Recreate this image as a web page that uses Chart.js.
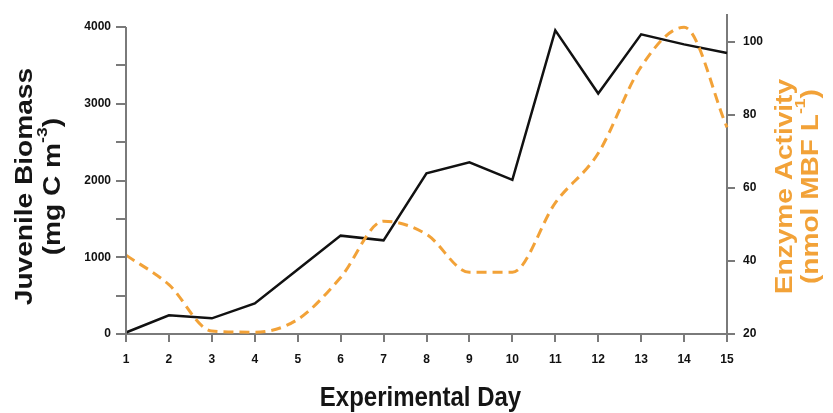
<!DOCTYPE html>
<html>
<head>
<meta charset="utf-8">
<script src="https://cdn.jsdelivr.net/npm/chart.js@4.4.1/dist/chart.umd.min.js"></script>
<style>
    html, body { margin: 0; padding: 0; background: #fff; }
    #wrap { width: 833px; height: 413px; }
</style>
</head>
<body>
<div id="wrap"><canvas id="chart"></canvas></div>
<script>
// ----- DATA -----
const days = ['1', '2', '3', '4', '5', '6', '7', '8', '9', '10', '11', '12', '13', '14', '15'];
const biomass = [20, 243, 204, 399, 840, 1282, 1221, 2095, 2238, 2009, 3957, 3134, 3905, 3775, 3662];
const enzyme = [41.6, 33.5, 20.8, 20.5, 24, 35.5, 50.9, 47.3, 36.9, 36.9, 55.9, 69.5, 93.2, 104, 76.6];
const biomassTicks = [0, 500, 1000, 1500, 2000, 2500, 3000, 3500, 4000];
const enzymeTicks = [20, 40, 60, 80, 100];

const ORANGE = '#F2A238';
const AXIS = '#7a7a7a';
const FONT = "'Liberation Sans', Arial, sans-serif";

// draws a rotated / stretched title made of normal and superscript parts
function drawTitleLine(ctx, parts, x, y, size, rot, stretch, color) {
    ctx.save();
    ctx.translate(x, y);
    ctx.scale(1, stretch);
    if (rot) ctx.rotate(rot);
    ctx.fillStyle = color;
    ctx.textBaseline = 'middle';
    ctx.textAlign = 'left';
    const widths = parts.map(p => {
        ctx.font = `bold ${p.sup ? Math.round(size * 0.62) : size}px ${FONT}`;
        return ctx.measureText(p.t).width;
    });
    let cx = -widths.reduce((a, b) => a + b, 0) / 2;
    parts.forEach((p, i) => {
        ctx.font = `bold ${p.sup ? Math.round(size * 0.62) : size}px ${FONT}`;
        ctx.fillText(p.t, cx, p.sup ? -size * 0.42 : 0);
        cx += widths[i];
    });
    ctx.restore();
}

const titlesPlugin = {
    id: 'axisTitles',
    afterDraw(chart) {
        const { ctx, chartArea: a, scales } = chart;
        // left axis line only up to the 4000 tick
        ctx.save();
        ctx.strokeStyle = AXIS;
        ctx.lineWidth = 2;
        ctx.beginPath();
        ctx.moveTo(a.left, scales.y.getPixelForValue(4000));
        ctx.lineTo(a.left, a.bottom + 1);
        ctx.stroke();
        ctx.restore();

        const midY = a.top + (a.bottom - a.top) / 2 + 12;
        const up = -Math.PI / 2;
        drawTitleLine(ctx, [{ t: 'Juvenile Biomass' }], a.left - 101, midY, 24, up, 1.17, '#151515');
        drawTitleLine(ctx, [{ t: '(mg C m' }, { t: '-3', sup: true }, { t: ')' }], a.left - 73, midY, 24, up, 1.17, '#151515');
        drawTitleLine(ctx, [{ t: 'Enzyme Activity' }], a.right + 58, midY, 24, up, 1.17, ORANGE);
        drawTitleLine(ctx, [{ t: '(nmol MBF L' }, { t: '-1', sup: true }, { t: ')' }], a.right + 84, midY, 24, up, 1.17, ORANGE);
        drawTitleLine(ctx, [{ t: 'Experimental Day' }], (a.left + a.right) / 2 - 6, a.bottom + 64, 24, 0, 1.17, '#151515');
    }
};

new Chart(document.getElementById('chart'), {
    type: 'line',
    data: {
        labels: days,
        datasets: [
            {
                label: 'Juvenile Biomass',
                data: biomass,
                yAxisID: 'y',
                borderColor: '#111',
                borderWidth: 2.5,
                pointRadius: 0,
                tension: 0,
                order: 1
            },
            {
                label: 'Enzyme Activity',
                data: enzyme,
                yAxisID: 'y2',
                borderColor: ORANGE,
                borderWidth: 3,
                borderDash: [10, 6],
                pointRadius: 0,
                cubicInterpolationMode: 'monotone',
                clip: false,
                order: 0
            }
        ]
    },
    options: {
        responsive: true,
        maintainAspectRatio: false,
        animation: false,
        layout: { padding: { top: 13, left: 0, right: 0, bottom: 0 } },
        plugins: { legend: { display: false }, tooltip: { enabled: false } },
        scales: {
            x: {
                offset: false,
                afterFit: s => { s.height = 79; },
                grid: { drawOnChartArea: false, drawTicks: true, tickLength: 8, color: AXIS, lineWidth: 2 },
                border: { display: true, color: AXIS, width: 2 },
                ticks: { color: '#111', padding: 10, maxRotation: 0, autoSkip: false, font: { family: FONT, size: 12, weight: 'bold' } }
            },
            y: {
                position: 'left',
                min: 0,
                max: 4155,
                afterFit: s => { s.width = 126; },
                afterBuildTicks: s => { s.ticks = biomassTicks.map(v => ({ value: v })); },
                grid: { drawOnChartArea: false, drawTicks: true, tickLength: 10, color: AXIS, lineWidth: 2 },
                border: { display: false },
                ticks: {
                    color: '#111', padding: 5,
                    font: { family: FONT, size: 12, weight: 'bold' },
                    callback: v => (v % 1000 === 0 ? String(v) : '')
                }
            },
            y2: {
                position: 'right',
                min: 20,
                max: 107.3,
                afterFit: s => { s.width = 106; },
                afterBuildTicks: s => { s.ticks = enzymeTicks.map(v => ({ value: v })); },
                grid: { drawOnChartArea: false, drawTicks: true, tickLength: 8, color: AXIS, lineWidth: 2 },
                border: { display: true, color: AXIS, width: 2 },
                ticks: { color: '#111', padding: 8, font: { family: FONT, size: 12, weight: 'bold' } }
            }
        }
    },
    plugins: [titlesPlugin]
});
</script>
</body>
</html>
